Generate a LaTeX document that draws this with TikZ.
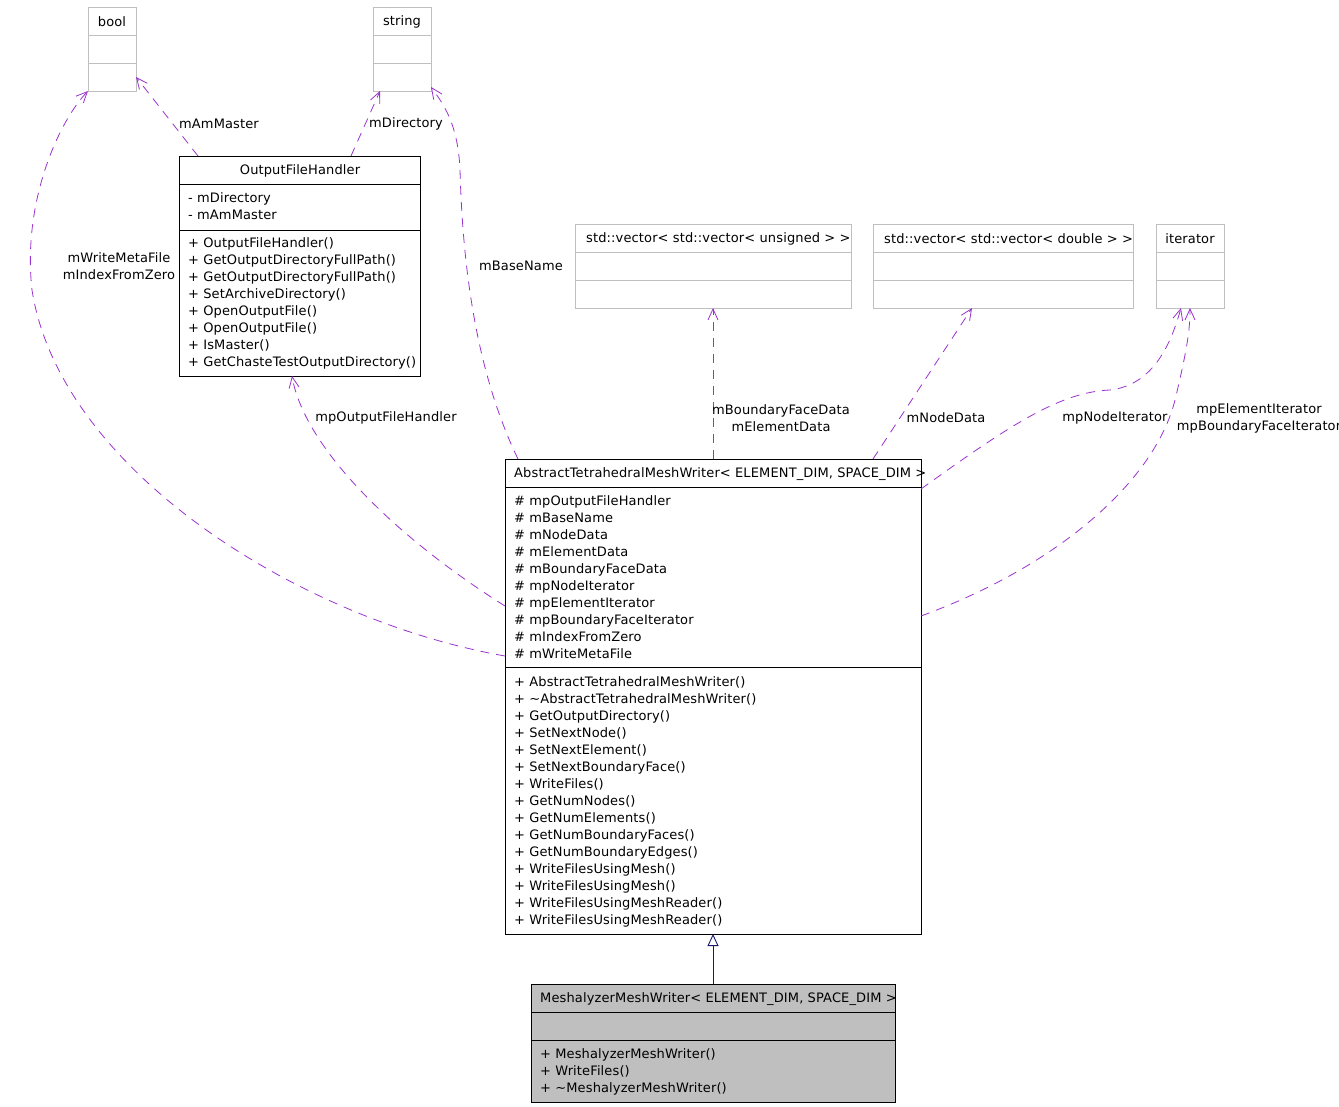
\documentclass[tikz,border=0pt]{standalone}
\usepackage{fontspec}
\setmainfont{DejaVu Sans}[LetterSpace=1]
\usetikzlibrary{calc,arrows.meta}
\definecolor{grayline}{HTML}{BFBFBF}
\definecolor{orchid}{HTML}{9A32CD}
\definecolor{navyline}{HTML}{191970}
\tikzset{
  cls/.style={draw=black,line width=0.9pt,anchor=north west,inner sep=0pt,outer sep=0pt},
  ext/.style={cls,draw=grayline},
  txt/.style={inner sep=0pt,font=\fontsize{13}{17}\selectfont},
  rows/.style={txt,anchor=north west,align=left},
  uses/.style={draw=orchid,line width=0.8pt,dash pattern=on 9pt off 7pt,
    -{Straight Barb[length=11pt,width=10pt]}},
  lbl/.style={txt,align=center},
}
\begin{document}
\begin{tikzpicture}[x=1pt,y=-1pt]
  \useasboundingbox (0,0) rectangle (1339,1107);
  % outside classes
  \node[ext,minimum width=48pt,minimum height=84pt] (bool) at (88,7) {};
  \draw[grayline,line width=0.9pt] (88,35) -- ++(48,0) (88,63) -- ++(48,0);
  \node[txt] (boolname) at (112,22) {bool};
  \node[ext,minimum width=58pt,minimum height=84pt] (str) at (373,7) {};
  \draw[grayline,line width=0.9pt] (373,35) -- ++(58,0) (373,63) -- ++(58,0);
  \node[txt] (strname) at (402,22) {string};
  \node[ext,minimum width=276pt,minimum height=84pt] (vecu) at (575,224) {};
  \draw[grayline,line width=0.9pt] (575,252) -- ++(276,0) (575,280) -- ++(276,0);
  \node[txt,anchor=west] (vecuname) at (586,239) {std::vector< std::vector< unsigned > >};
  \node[ext,minimum width=260pt,minimum height=84pt] (vecd) at (873,224) {};
  \draw[grayline,line width=0.9pt] (873,252) -- ++(260,0) (873,280) -- ++(260,0);
  \node[txt,anchor=west] (vecdname) at (884,239) {std::vector< std::vector< double > >};
  \node[ext,minimum width=68pt,minimum height=84pt] (iter) at (1156,224) {};
  \draw[grayline,line width=0.9pt] (1156,252) -- ++(68,0) (1156,280) -- ++(68,0);
  \node[txt] (itername) at (1190,239) {iterator};

  % OutputFileHandler
  \node[cls,minimum width=241pt,minimum height=220pt] (ofh) at (179,156) {};
  \draw[line width=0.9pt] (179,184) -- ++(241,0) (179,230) -- ++(241,0);
  \node[txt] (ofhname) at (300,171) {OutputFileHandler};
  \node[rows] (ofhattr) at (188,192) {- mDirectory\\- mAmMaster};
  \node[rows] (ofhops) at (188,237) {+ OutputFileHandler()\\+ GetOutputDirectoryFullPath()\\
    + GetOutputDirectoryFullPath()\\+ SetArchiveDirectory()\\+ OpenOutputFile()\\
    + OpenOutputFile()\\+ IsMaster()\\+ GetChasteTestOutputDirectory()};

  % AbstractTetrahedralMeshWriter
  \node[cls,minimum width=416pt,minimum height=475pt] (abs) at (505,459) {};
  \draw[line width=0.9pt] (505,487) -- ++(416,0) (505,667) -- ++(416,0);
  \node[txt,anchor=west] (absname) at (514,474) {AbstractTetrahedralMeshWriter< ELEMENT\_DIM, SPACE\_DIM >};
  \node[rows] (absattr) at (514,495) {\# mpOutputFileHandler\\\# mBaseName\\\# mNodeData\\
    \# mElementData\\\# mBoundaryFaceData\\\# mpNodeIterator\\\# mpElementIterator\\
    \# mpBoundaryFaceIterator\\\# mIndexFromZero\\\# mWriteMetaFile};
  \node[rows] (absops) at (514,676) {+ AbstractTetrahedralMeshWriter()\\+ \textasciitilde AbstractTetrahedralMeshWriter()\\
    + GetOutputDirectory()\\+ SetNextNode()\\+ SetNextElement()\\+ SetNextBoundaryFace()\\
    + WriteFiles()\\+ GetNumNodes()\\+ GetNumElements()\\+ GetNumBoundaryFaces()\\
    + GetNumBoundaryEdges()\\+ WriteFilesUsingMesh()\\+ WriteFilesUsingMesh()\\
    + WriteFilesUsingMeshReader()\\+ WriteFilesUsingMeshReader()};

  % MeshalyzerMeshWriter
  \node[cls,fill=grayline,minimum width=364pt,minimum height=118pt] (mesh) at (531,984) {};
  \draw[line width=0.9pt] (531,1012) -- ++(364,0) (531,1040) -- ++(364,0);
  \node[txt,anchor=west] (meshname) at (540,999) {MeshalyzerMeshWriter< ELEMENT\_DIM, SPACE\_DIM >};
  \node[rows] (meshops) at (540,1048) {+ MeshalyzerMeshWriter()\\+ WriteFiles()\\+ \textasciitilde MeshalyzerMeshWriter()};

  % inheritance
  \draw[navyline,line width=0.9pt,-{Triangle[open,length=12pt,width=11pt]}] (mesh.north) -- (abs.south);

  % members
  \draw[uses] ([xshift=19pt]ofh.north west) -- ([yshift=14pt]bool.south east);
  \node[lbl] (lamaster) at (219,124) {mAmMaster};
  \draw[uses] ([xshift=172pt]ofh.north west) -- ([xshift=7pt]str.south west);
  \node[lbl] (ldir) at (406,124) {mDirectory};
  \draw[uses] ([yshift=-197pt]abs.north west) .. controls (300,620) and (60,470) .. (32,290)
    .. controls (22,200) and (60,120) .. (bool.south west);
  \node[lbl] (lmeta) at (119,266) {mWriteMetaFile\\mIndexFromZero};
  \draw[uses] ([yshift=-147pt]abs.north west) .. controls (400,540) and (305,450) .. ([xshift=113pt]ofh.south west);
  \node[lbl] (lofh) at (386,418) {mpOutputFileHandler};
  \draw[uses] ([xshift=13pt]abs.north west) .. controls (470,360) and (462,240) .. (460,170)
    .. controls (458,120) and (440,100) .. ([yshift=4pt]str.south east);
  \node[lbl] (lbase) at (521,266) {mBaseName};
  \draw[uses] (abs.north) -- (vecu.south);
  \node[lbl] (lbound) at (781,418) {mBoundaryFaceData\\mElementData};
  \draw[uses] ([xshift=-48pt]abs.north east) -- ([xshift=-161pt]vecd.south east);
  \node[lbl] (lnode) at (946,418) {mNodeData};
  \draw[uses] ([yshift=-30pt]abs.north east) .. controls (1010,425) and (1060,392) .. (1110,390)
    .. controls (1155,385) and (1172,340) .. ([xshift=-9pt]iter.south);
  \node[lbl] (lnodeit) at (1115,418) {mpNodeIterator};
  \draw[uses] ([yshift=-157pt]abs.north east) .. controls (1060,565) and (1155,480) .. (1175,400)
    .. controls (1187,350) and (1190,330) .. (iter.south);
  \node[lbl] (lelemit) at (1259,418) {mpElementIterator\\mpBoundaryFaceIterator};
\end{tikzpicture}
\end{document}
